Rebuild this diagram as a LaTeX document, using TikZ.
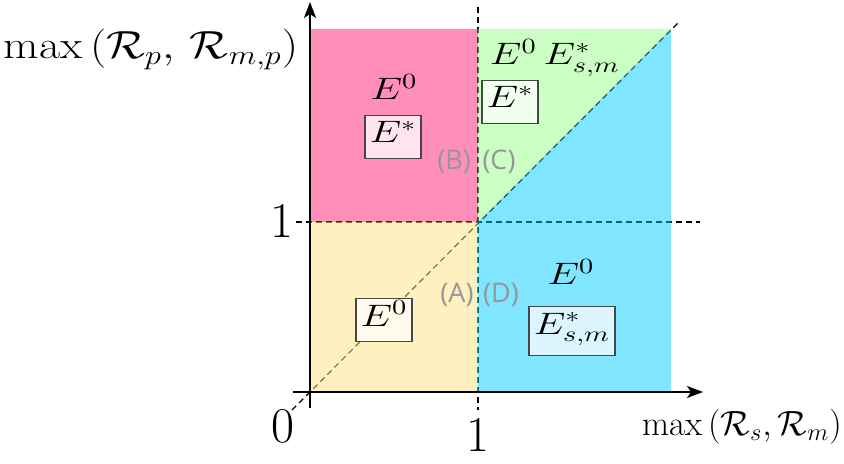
\RequirePackage{fix-cm}
\documentclass[tikz,border=0pt]{standalone}
\usepackage{fontspec}
\newfontfamily\lblfont{Open Sans}
\usetikzlibrary{arrows.meta}
\definecolor{pinkR}{RGB}{255,31,115}
\definecolor{greenR}{RGB}{153,255,137}
\definecolor{blueR}{RGB}{1,203,255}
\definecolor{yellowR}{RGB}{255,225,129}
\definecolor{boxline}{RGB}{70,70,70}
\definecolor{lblgray}{RGB}{150,150,150}
\tikzset{
  region/.style={fill opacity=0.5, draw=none},
  guide/.style={dashed, dash pattern=on 3pt off 2pt, line width=0.6pt, black},
  axis/.style={line width=1pt, -{Stealth[length=8pt,width=6pt,inset=2pt]}},
  elabel/.style={inner sep=0pt, anchor=base, xscale=1.3, transform shape, font=\fontsize{15.5}{19}\selectfont},
  ebox/.style={draw=boxline, line width=0.9pt, xscale=1.3, transform shape, inner xsep=1.8pt, inner ysep=2.75pt, text height=11pt, text depth=5pt, font=\fontsize{15.5}{19}\selectfont},
  axlabel/.style={inner sep=0pt, anchor=base, font=\fontsize{17.5}{21}\selectfont},
  ticklabel/.style={inner sep=0pt, anchor=base, font=\fontsize{25}{30}\selectfont},
  caselabel/.style={inner sep=0pt, text=lblgray, font=\lblfont\fontsize{13.5}{16}\selectfont},
}
\begin{document}
\begin{tikzpicture}[x=0.5pt,y=-0.5pt]
\useasboundingbox (0,0) rectangle (844,464);
% guide lines
\coordinate (vtop) at (478,7);
\coordinate (vbot) at (478,410);
\coordinate (hleft) at (296,222);
\coordinate (hright) at (700,222);
\coordinate (dlo) at (292,410);
\coordinate (dhi) at (678,23);
\draw[guide] (vtop) -- (vbot);
\draw[guide] (hleft) -- (hright);
\draw[guide] (dlo) -- (dhi);
% regions
\fill[region, yellowR] (310,392) rectangle (478,222);
\fill[region, pinkR] (310,222) rectangle (478,29);
\fill[region, greenR] (478,222) -- (478,29) -- (671,29) -- cycle;
\fill[region, blueR] (478,392) -- (478,222) -- (671,29) -- (671,392) -- cycle;
% axes
\coordinate (xs) at (293,392);
\coordinate (xe) at (703,392);
\coordinate (ys) at (310,408);
\coordinate (ye) at (310,2);
\draw[axis] (xs) -- (xe);
\draw[axis] (ys) -- (ye);
% axis labels
\node[axlabel, font=\fontsize{19.6}{23}\selectfont, xscale=1.17, transform shape] (ylab) at (151,59) {$\max\left(\mathcal{R}_p,\,\mathcal{R}_{m,p}\right)$};
\node[axlabel] (xlab) at (742,435) {$\max\left(\mathcal{R}_s, \mathcal{R}_m\right)$};
\node[ticklabel] (t1y) at (282,238) {$1$};
\node[ticklabel] (t0) at (283,442) {$0$};
\node[ticklabel] (t1x) at (478,451) {$1$};
% region labels
\node[elabel] (pinkE) at (394,100) {$E^0$};
\node[ebox, fill={rgb,255:red,255;green,228;blue,240}] (pinkbox) at (393,137) {$E^*$};
\node[elabel] (greenE) at (555,65) {$E^0\,E^*_{s,m}$};
\node[ebox, fill={rgb,255:red,240;green,255;blue,238}] (greenbox) at (510,102) {$E^*$};
\node[ebox, fill={rgb,255:red,255;green,250;blue,235}] (yellowbox) at (384,320) {$E^0$};
\node[elabel] (blueE) at (571,285) {$E^0$};
\node[ebox, text depth=8pt, fill={rgb,255:red,220;green,245;blue,255}] (bluebox) at (572,331) {$E^*_{s,m}$};
% case labels
\node[caselabel] (cB) at (454,162) {(B)};
\node[caselabel] (cC) at (499,162) {(C)};
\node[caselabel] (cA) at (457,295) {(A)};
\node[caselabel] (cD) at (501,295) {(D)};
\end{tikzpicture}
\end{document}
